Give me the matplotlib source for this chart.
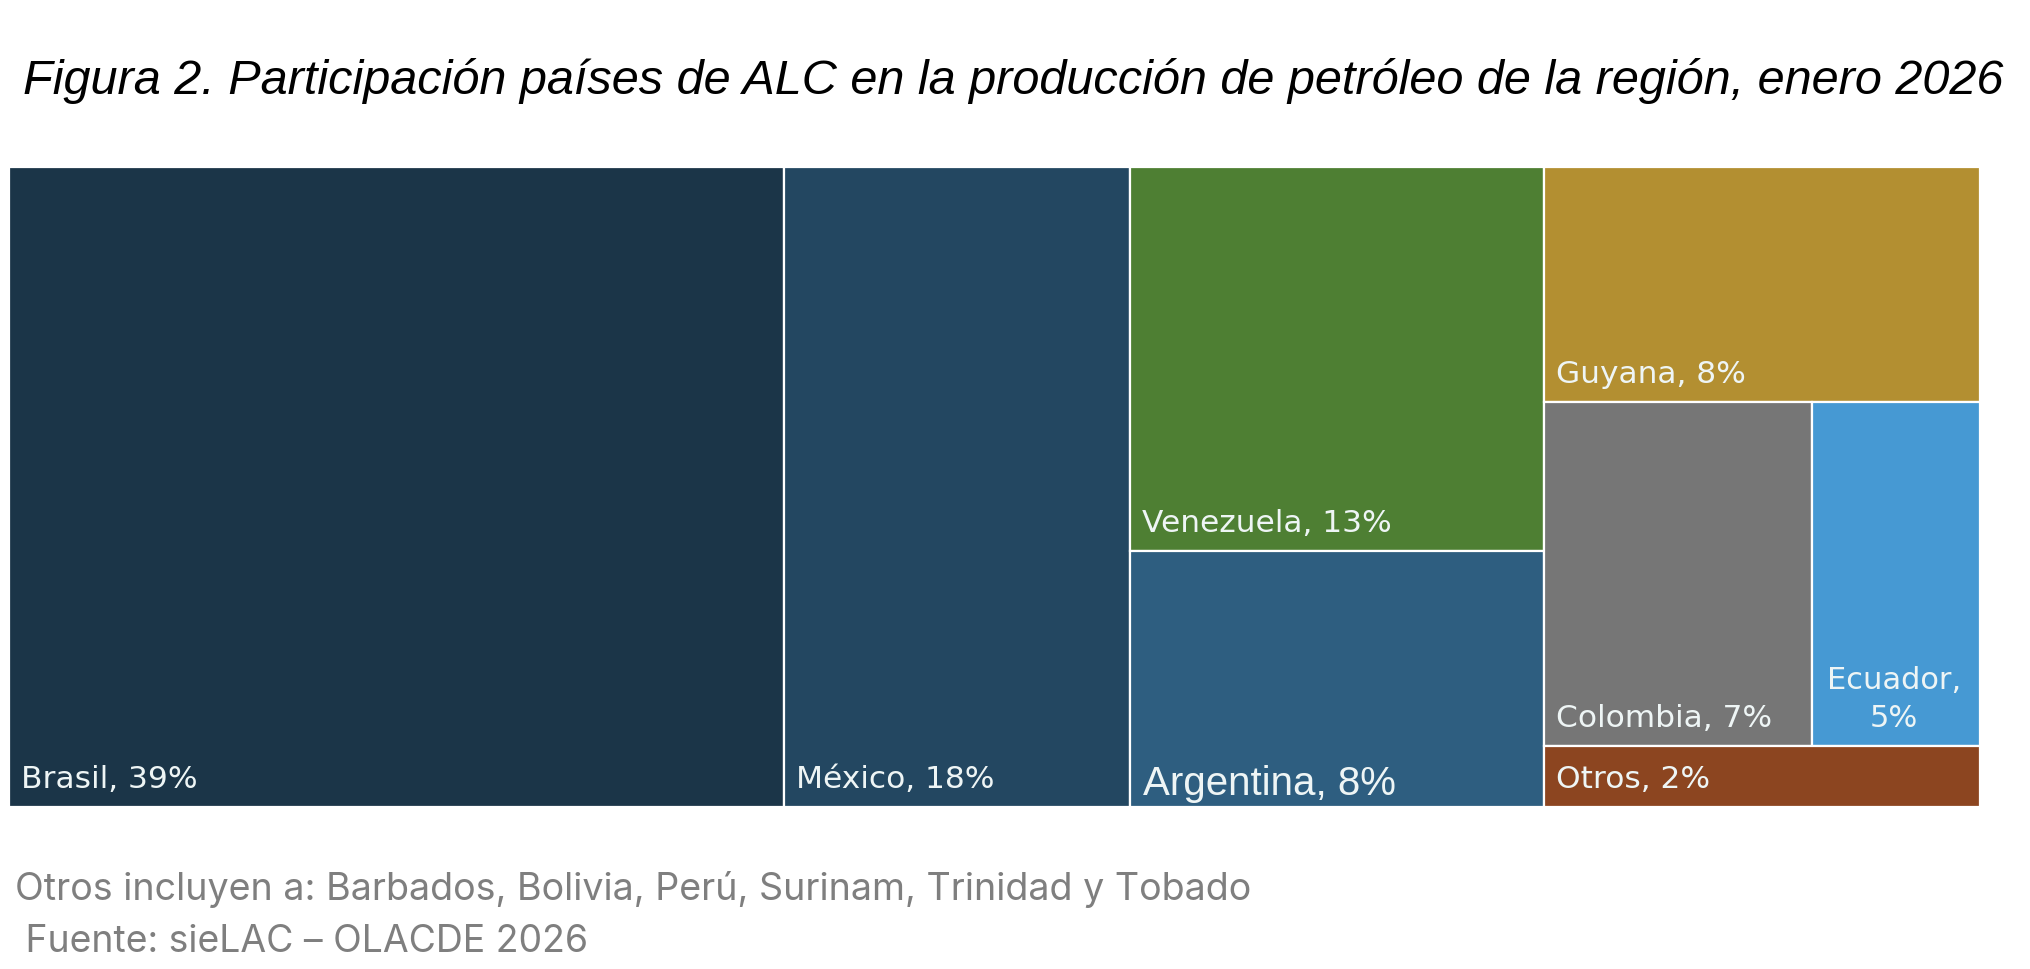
import matplotlib
matplotlib.use("Agg")
import matplotlib.pyplot as plt

# datos (participación %, enero 2026)
paises = ["Brasil", "México", "Venezuela", "Argentina", "Guyana", "Colombia", "Ecuador", "Otros"]
valores = [39.3, 17.6, 12.6, 8.4, 8.1, 7.3, 4.6, 2.1]
colores = ["#1b3548", "#234761", "#4e7f33", "#2e5e80", "#b38f31", "#767676", "#4699d3", "#8c4520"]

# agrupación del treemap (índices en paises), se alterna horizontal / vertical
grupos = [0, 1, [2, 3], [4, [5, 6], 7]]

titulo = "Figura 2. Participación países de ALC en la producción de petróleo de la región, enero 2026"
nota = "Otros incluyen a: Barbados, Bolivia, Perú, Surinam, Trinidad y Tobado"
fuente = " Fuente: sieLAC – OLACDE 2026"

W, H, DPI = 2030, 970, 100
fig = plt.figure(figsize=(W / DPI, H / DPI), dpi=DPI)


def total(g):
    if isinstance(g, list):
        return sum(total(s) for s in g)
    return valores[g]


def layout(g, x, y, w, h, horiz, out):
    if not isinstance(g, list):
        out[g] = (x, y, w, h)
        return
    t = total(g)
    pos = 0.0
    for s in g:
        f = total(s) / t
        if horiz:
            layout(s, x + pos * w, y, w * f, h, not horiz, out)
        else:
            layout(s, x, y + pos * h, w, h * f, not horiz, out)
        pos += f


rects = {}
layout(grupos, 0.0, 0.0, 1.0, 1.0, True, rects)

ax = fig.add_axes([9 / W, 1 - 808 / H, 1971 / W, 640 / H])
ax.set_xlim(0, 1)
ax.set_ylim(1, 0)
ax.axis("off")

for i, nombre in enumerate(paises):
    x, y, w, h = rects[i]
    ax.bar(x, h, width=w, bottom=y, align="edge", color=colores[i],
           edgecolor="white", linewidth=1.6)
    pct = round(valores[i])
    if nombre == "Ecuador":
        ax.annotate(f"{nombre},\n{pct}%", xy=(x + w / 2, y + h), xytext=(-2, 14),
                    textcoords="offset pixels", ha="center", va="bottom",
                    fontsize=22, color="#eef5f5", family="DejaVu Sans",
                    linespacing=1.4)
    elif nombre == "Argentina":
        ax.annotate(f"{nombre}, {pct}%", xy=(x, y + h), xytext=(13, 13),
                    textcoords="offset pixels", ha="left", va="baseline",
                    fontsize=29, color="#eef5f5", family="Liberation Sans")
    else:
        ax.annotate(f"{nombre}, {pct}%", xy=(x, y + h), xytext=(12, 20),
                    textcoords="offset pixels", ha="left", va="baseline",
                    fontsize=22.5, color="#eef5f5", family="DejaVu Sans")


def fit_text(x, y, s, right, **kw):
    t = fig.text(x / W, 1 - y / H, s, va="baseline", ha="left", **kw)
    r = fig.canvas.get_renderer()
    bb = t.get_window_extent(r)
    t.set_fontsize(t.get_fontsize() * (right - x) / bb.width)
    return t


fit_text(23, 94, titulo, 2003, fontsize=30, style="italic", color="black",
         family="Liberation Sans")
fit_text(15, 900, nota, 1251, fontsize=26, color="#7f7f7f", family="Inter")
fit_text(15, 952, fuente, 588, fontsize=26, color="#7f7f7f", family="Inter")

fig.savefig("out.png", dpi=DPI, facecolor="white")
